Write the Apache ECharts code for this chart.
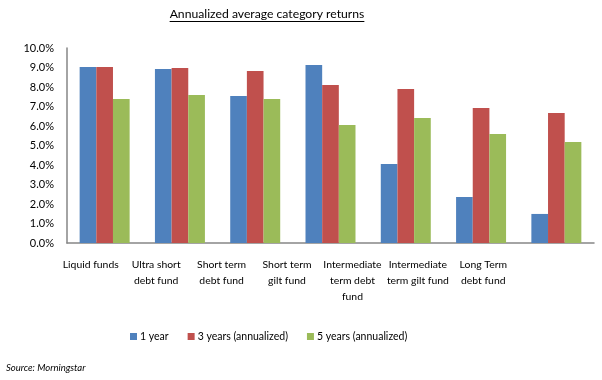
<!DOCTYPE html>
<html><head><meta charset="utf-8">
<script src="https://cdn.jsdelivr.net/npm/echarts@6/dist/echarts.min.js"></script>
<style>html,body{margin:0;padding:0;background:#fff}#c{width:602px;height:380px}</style>
</head><body><div id="c"></div>
<script>
const categories = ['Liquid funds', 'Ultra short\ndebt fund', 'Short term\ndebt fund', 'Short term\ngilt fund', 'Intermediate\nterm debt\nfund', 'Intermediate\nterm gilt fund', 'Long Term\ndebt fund'];
const seriesNames = ['1 year', '3 years (annualized)', '5 years (annualized)'];
const oneYear = [9.03, 8.92, 7.54, 9.13, 4.05, 2.36, 1.49];
const threeYears = [9.03, 8.97, 8.82, 8.10, 7.90, 6.92, 6.67];
const fiveYears = [7.38, 7.59, 7.38, 6.05, 6.41, 5.59, 5.18];
const yMin = 0, yMax = 10, yStep = 1;
const titleText = 'Annualized average category returns';
const sourceText = 'Source: Morningstar';
const colors = ['#4F81BD', '#C0504D', '#9BBB59'];

const FONT = 'Lato';
const titleSize = 12.2;
const cv = document.createElement('canvas').getContext('2d');
cv.font = titleSize + 'px ' + FONT;
const tw = cv.measureText(titleText).width;
const tcx = 267;

const chart = echarts.init(document.getElementById('c'), null, {renderer: 'canvas'});
chart.setOption({
  animation: false,
  color: colors,
  textStyle: {fontFamily: FONT},
  grid: [
    {left: 67, right: 8, top: 48, bottom: 137},
    {left: 58, right: 86, top: 48, bottom: 137}
  ],
  legend: {
    data: seriesNames, left: 125, top: 326, icon: 'rect', itemWidth: 7, itemHeight: 7,
    itemGap: 19, textStyle: {fontSize: 10.5, color: '#000', fontFamily: FONT, padding: [0,0,0,-2]}
  },
  xAxis: [
    {type: 'category', data: categories, gridIndex: 0,
     axisLine: {lineStyle: {color: '#868686', width: 1.5}}, axisTick: {show: false}, axisLabel: {show: false}},
    {type: 'category', data: categories, gridIndex: 1,
     axisLine: {show: false}, axisTick: {show: false},
     axisLabel: {color: '#000', fontSize: 10.4, lineHeight: 16, margin: 14, interval: 0, fontFamily: FONT}}
  ],
  yAxis: [
    {type: 'value', min: yMin, max: yMax, interval: yStep, gridIndex: 0,
     axisLine: {show: true, lineStyle: {color: '#868686', width: 1.5}}, axisTick: {show: false}, splitLine: {show: false},
     axisLabel: {color: '#000', fontSize: 11, margin: 13, formatter: v => v.toFixed(1) + '%', fontFamily: FONT}},
    {type: 'value', min: yMin, max: yMax, gridIndex: 1, show: false}
  ],
  series: [
    {name: seriesNames[0], type: 'bar', data: oneYear, barGap: 0, barCategoryGap: '33.6%'},
    {name: seriesNames[1], type: 'bar', data: threeYears, barGap: 0, barCategoryGap: '33.6%'},
    {name: seriesNames[2], type: 'bar', data: fiveYears, barGap: 0, barCategoryGap: '33.6%'}
  ],
  graphic: [
    {type: 'text', left: tcx - tw / 2, top: 8, style: {text: titleText, font: titleSize + 'px ' + FONT, fill: '#000'}},
    {type: 'line', shape: {x1: tcx - tw / 2, y1: 21.5, x2: tcx + tw / 2, y2: 21.5}, style: {stroke: '#000', lineWidth: 1}},
    {type: 'text', left: 6, top: 363, style: {text: sourceText, font: 'italic 9.5px ' + FONT, fill: '#000'}}
  ]
});
</script></body></html>
